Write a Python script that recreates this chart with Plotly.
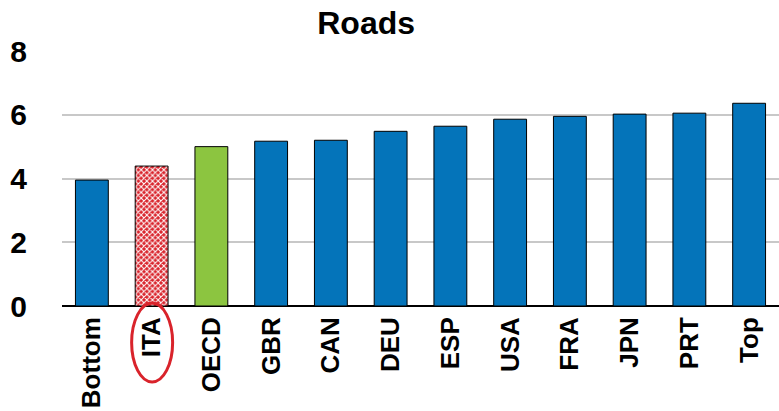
import plotly.graph_objects as go

# Road infrastructure quality scores by country
categories = ["Bottom", "ITA", "OECD", "GBR", "CAN", "DEU", "ESP", "USA", "FRA", "JPN", "PRT", "Top"]
values = [3.95, 4.39, 5.0, 5.17, 5.2, 5.48, 5.64, 5.86, 5.95, 6.02, 6.05, 6.36]
y_ticks = [0, 2, 4, 6, 8]

BLUE = "#0474BA"
GREEN = "#8CC540"
RED = "#D9232B"

colors = []
for c in categories:
    if c == "OECD":
        colors.append(GREEN)
    elif c == "ITA":
        colors.append(RED)
    else:
        colors.append(BLUE)

# Fine red/white check for the highlighted country
pattern_shapes = ["x" if c == "ITA" else "" for c in categories]

fig = go.Figure(
    go.Bar(
        x=categories,
        y=values,
        marker=dict(
            color=colors,
            line=dict(color="black", width=1),
            pattern=dict(
                shape=pattern_shapes,
                fgcolor="white",
                size=4,
                solidity=0.45,
                fillmode="overlay",
                fgopacity=1,
            ),
        ),
        width=0.55,
    )
)

font = "Liberation Sans, Arial, sans-serif"

fig.update_layout(
    width=779,
    height=411,
    margin=dict(l=62, r=0, t=51, b=105),
    paper_bgcolor="white",
    plot_bgcolor="white",
    showlegend=False,
    title=dict(
        text="<b>Roads</b>",
        x=0.47,
        xanchor="center",
        y=0.945,
        yanchor="middle",
        font=dict(family=font, size=32, color="black"),
    ),
    xaxis=dict(
        tickangle=-90,
        tickfont=dict(family=font, size=26, color="black", weight="bold"),
        showgrid=False,
        showline=False,
        ticks="",
        ticklabelstandoff=5,
        automargin=False,
    ),
    yaxis=dict(
        range=[0, 8],
        tickvals=y_ticks,
        tickfont=dict(family=font, size=30, color="black", weight="bold"),
        showgrid=True,
        gridcolor="#C8C8C8",
        gridwidth=2,
        zeroline=True,
        zerolinecolor="black",
        zerolinewidth=2,
        showline=False,
        ticks="",
        ticklabelstandoff=34,
        automargin=False,
    ),
)

# Red ellipse highlighting the ITA label (placed in paper space so it is not clipped)
ita_frac = (categories.index("ITA") + 0.5) / len(categories)
fig.add_shape(
    type="circle",
    xref="paper",
    yref="paper",
    xsizemode="pixel",
    ysizemode="pixel",
    xanchor=ita_frac,
    yanchor=0,
    x0=-20,
    x1=21,
    y0=3,
    y1=-76,
    line=dict(color=RED, width=3),
    fillcolor="rgba(0,0,0,0)",
    layer="above",
)

fig.write_html("out.html")
